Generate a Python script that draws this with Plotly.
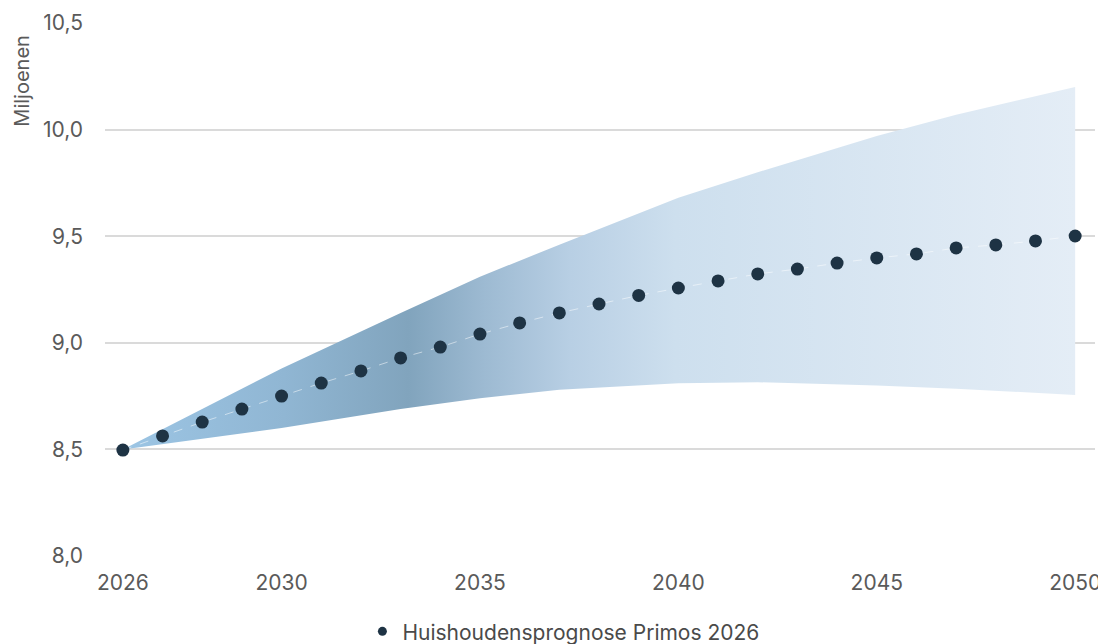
import plotly.graph_objects as go

# Forecast (dots)
years = list(range(2026, 2051))
households = [8.497, 8.563, 8.628, 8.689, 8.750, 8.811, 8.868, 8.929, 8.980, 9.041,
              9.093, 9.140, 9.182, 9.222, 9.257, 9.290, 9.323, 9.346, 9.374, 9.398,
              9.417, 9.445, 9.459, 9.478, 9.501]

# Uncertainty band
band_years = [2026, 2028, 2030, 2033, 2035, 2037, 2040, 2042, 2045, 2047, 2050]
band_upper = [8.50, 8.69, 8.88, 9.14, 9.31, 9.46, 9.68, 9.80, 9.97, 10.07, 10.20]
band_lower = [8.50, 8.55, 8.60, 8.69, 8.74, 8.78, 8.81, 8.815, 8.80, 8.785, 8.755]

x_ticks = [2026, 2030, 2035, 2040, 2045, 2050]
y_ticks = [8.0, 8.5, 9.0, 9.5, 10.0, 10.5]

series_name = "Huishoudensprognose Primos 2026"
y_title = "Miljoenen"

FONT = "Inter, Roboto, sans-serif"
TXT = "#5a5a5a"

fig = go.Figure()

poly_x = band_years + band_years[::-1]
poly_y = band_upper + band_lower[::-1]
fig.add_trace(go.Scatter(
    x=poly_x, y=poly_y, mode="lines", line=dict(width=0),
    fill="toself",
    fillgradient=dict(
        type="horizontal",
        colorscale=[
            [0.0, "#9cc5e4"],
            [0.17, "#90b6d3"],
            [0.30, "#81a4bd"],
            [0.38, "#9dbad2"],
            [0.47, "#b8cfe4"],
            [0.58, "#cddfee"],
            [1.0, "#e4edf6"],
        ],
    ),
    showlegend=False, hoverinfo="skip",
))

fig.add_trace(go.Scatter(
    x=years, y=households, mode="lines",
    line=dict(color="rgba(255,255,255,0.5)", width=1, dash="dash"),
    showlegend=False, hoverinfo="skip",
))

fig.add_trace(go.Scatter(
    x=years, y=households, mode="markers", name=series_name,
    marker=dict(color="#1e3344", size=13), showlegend=False,
))

# legend entry (smaller symbol, as in the reference)
fig.add_trace(go.Scatter(
    x=[None], y=[None], mode="markers", name=series_name,
    marker=dict(color="#1e3344", size=9),
))

fig.update_layout(
    width=1098, height=660,
    margin=dict(l=97, r=11, t=15, b=112, autoexpand=False),
    paper_bgcolor="white", plot_bgcolor="white",
    separators=", ",
    font=dict(family=FONT, size=21, color=TXT),
    showlegend=True,
    legend=dict(orientation="h", x=0.26, xanchor="left", y=-0.142, yanchor="middle",
                font=dict(size=21, color="#4a4a4a")),
    xaxis=dict(range=[2025.55, 2050.5], tickvals=x_ticks, showgrid=False,
               zeroline=False, showline=False, ticks="", ticklabelstandoff=12,
               automargin=False, tickfont=dict(size=21, color=TXT)),
    yaxis=dict(range=[8.0, 10.5], tickvals=y_ticks, tickformat=".1f",
               showgrid=True, gridcolor="#dadada", gridwidth=2,
               zeroline=False, showline=False, ticks="", ticklabelstandoff=21,
               automargin=False, tickfont=dict(size=21, color=TXT)),
    annotations=[dict(text=y_title, textangle=-90, xref="paper", yref="paper",
                      x=-0.0833, y=0.891, xanchor="center", yanchor="middle",
                      showarrow=False, font=dict(size=20, color=TXT))],
)

fig.write_html("out.html")
